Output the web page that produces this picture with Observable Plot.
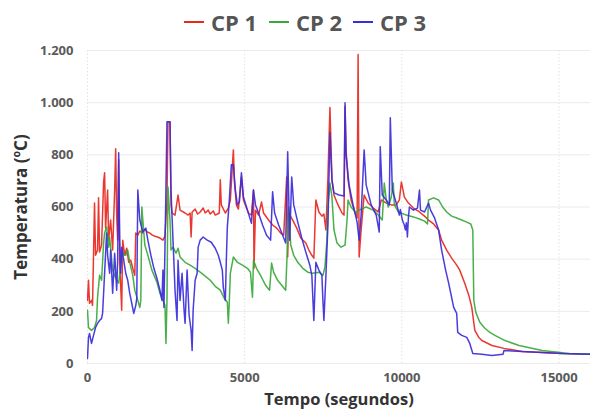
<!DOCTYPE html>
<html><head><meta charset="utf-8">
<script src="https://cdn.jsdelivr.net/npm/d3@7"></script>
<script src="https://cdn.jsdelivr.net/npm/@observablehq/plot@0.6"></script>
<style>
body{margin:0;background:#fff;font-family:"Open Sans",sans-serif;}
#wrap{width:590px;height:410px;position:relative;overflow:hidden;background:#fff}
#legend{position:relative;height:40px;}
.item{position:absolute;top:7px;display:flex;align-items:center;font-weight:700;font-size:22px;color:#555;line-height:30px;white-space:nowrap}
.dash{display:inline-block;width:20px;height:2px;margin-right:7px}
</style></head>
<body>
<div id="wrap">
  <div id="legend"></div>
  <div id="chart"></div>
</div>
<script>
const seriesNames = ["CP 1", "CP 2", "CP 3"];
const seriesColors = ["#e8271f", "#3aa83a", "#3a2ddb"];
const xTicks = [0, 5000, 10000, 15000];
const yTicks = [0, 200, 400, 600, 800, 1000, 1200];
const xTitle = "Tempo (segundos)";
const yTitle = "Temperatura (ºC)";

// [tempo (s), temperatura (ºC)]
const cp1 = [[0,242],[32,319],[64,231],[128,242],[160,223],[224,615],[256,415],[320,435],[352,635],[384,427],[448,454],[512,696],[544,731],[576,519],[640,665],[672,473],[736,550],[800,435],[864,665],[896,823],[928,569],[960,473],[992,781],[1024,388],[1088,204],[1120,473],[1184,415],[1248,442],[1312,388],[1376,396],[1440,365],[1504,338],[1536,500],[1600,492],[1664,508],[1744,500],[1824,515],[1904,504],[1984,500],[2064,492],[2144,488],[2224,485],[2304,481],[2400,473],[2464,488],[2528,627],[2560,927],[2624,927],[2656,608],[2688,577],[2784,569],[2880,646],[2944,588],[3104,577],[3200,569],[3264,577],[3296,485],[3328,581],[3424,592],[3504,573],[3584,581],[3680,596],[3744,577],[3840,588],[3904,573],[4000,585],[4064,569],[4192,577],[4224,704],[4256,608],[4384,577],[4480,596],[4544,627],[4640,819],[4672,700],[4736,608],[4800,592],[4896,715],[4960,627],[5120,577],[5216,569],[5280,665],[5296,365],[5344,588],[5440,569],[5536,619],[5600,577],[5760,550],[5888,531],[6016,519],[6144,500],[6240,492],[6336,715],[6368,408],[6400,577],[6528,550],[6656,519],[6784,481],[6944,462],[7040,435],[7136,415],[7200,404],[7264,627],[7360,581],[7456,565],[7520,573],[7584,512],[7648,715],[7712,981],[7776,704],[7840,646],[7968,608],[8096,577],[8160,569],[8192,985],[8224,819],[8288,704],[8384,627],[8512,577],[8576,558],[8608,1185],[8640,408],[8704,512],[8800,646],[8928,615],[9088,596],[9248,581],[9344,627],[9504,615],[9664,608],[9824,608],[9920,627],[9984,696],[10080,638],[10208,615],[10368,596],[10560,581],[10720,565],[10848,550],[11008,535],[11168,512],[11264,473],[11424,435],[11584,404],[11744,377],[11840,358],[12000,308],[12128,262],[12224,215],[12320,127],[12448,100],[12544,88],[12864,69],[13248,58],[13824,46],[14464,42],[15104,38],[16064,35]];

const cp2 = [[0,204],[32,138],[128,127],[224,138],[288,165],[320,254],[384,338],[448,319],[512,462],[544,500],[608,523],[672,446],[704,485],[800,358],[896,327],[992,308],[1056,377],[1120,423],[1216,415],[1280,435],[1344,388],[1440,338],[1504,281],[1600,242],[1664,215],[1696,242],[1728,600],[1760,550],[1824,454],[1920,415],[2048,358],[2208,312],[2304,269],[2400,242],[2464,223],[2496,77],[2528,242],[2560,677],[2624,550],[2656,435],[2720,446],[2816,423],[2880,442],[2944,408],[3104,388],[3264,377],[3424,365],[3584,350],[3744,335],[3904,319],[4064,296],[4224,281],[4352,250],[4448,235],[4480,154],[4512,240],[4544,346],[4640,408],[4768,388],[4928,377],[5088,365],[5184,350],[5248,254],[5280,396],[5376,365],[5504,338],[5664,300],[5792,281],[5856,385],[5920,350],[6048,319],[6176,300],[6304,281],[6368,473],[6400,600],[6464,454],[6560,415],[6688,388],[6848,365],[7008,350],[7168,346],[7360,350],[7488,338],[7552,369],[7616,473],[7648,600],[7712,692],[7776,638],[7840,512],[7936,462],[8064,446],[8192,454],[8256,550],[8288,627],[8384,600],[8544,577],[8640,588],[8864,600],[9088,588],[9248,569],[9376,550],[9440,692],[9504,627],[9568,600],[9664,638],[9728,692],[9760,608],[9888,581],[10144,569],[10368,562],[10560,554],[10720,546],[10816,535],[10848,627],[11008,635],[11168,627],[11296,600],[11424,581],[11584,565],[11744,558],[11904,550],[12064,542],[12192,535],[12256,512],[12288,242],[12352,196],[12480,158],[12640,135],[12800,119],[12960,108],[13280,88],[13728,69],[14464,50],[15328,38],[16064,35]];

const cp3 = [[0,19],[32,100],[64,115],[128,77],[192,108],[256,138],[320,154],[384,165],[448,173],[480,192],[544,346],[608,500],[640,415],[704,346],[736,435],[800,269],[864,423],[928,281],[960,396],[992,808],[1024,473],[1056,346],[1088,446],[1152,396],[1216,346],[1280,319],[1344,269],[1408,231],[1472,192],[1536,223],[1568,250],[1600,665],[1664,550],[1760,504],[1856,519],[1920,473],[2016,415],[2112,365],[2208,327],[2304,281],[2368,242],[2400,358],[2432,215],[2496,677],[2528,927],[2624,927],[2656,665],[2688,569],[2720,473],[2784,281],[2848,165],[2880,396],[2944,242],[3008,346],[3072,204],[3104,154],[3168,358],[3232,185],[3296,127],[3328,50],[3360,204],[3424,319],[3488,346],[3520,446],[3584,473],[3680,485],[3808,473],[3936,465],[4064,442],[4160,415],[4224,388],[4288,358],[4320,292],[4384,242],[4416,396],[4448,523],[4512,627],[4576,762],[4640,762],[4704,665],[4768,608],[4832,620],[4896,731],[4960,638],[5088,588],[5216,538],[5280,665],[5344,608],[5440,577],[5568,531],[5696,492],[5824,473],[5888,658],[5952,577],[6080,531],[6208,492],[6304,462],[6368,812],[6432,473],[6496,715],[6560,608],[6688,542],[6816,481],[6944,427],[7072,377],[7136,338],[7200,165],[7264,388],[7360,358],[7456,338],[7488,242],[7520,165],[7584,338],[7648,531],[7712,885],[7776,704],[7840,654],[8000,646],[8160,642],[8192,1000],[8224,800],[8320,685],[8448,608],[8576,542],[8640,473],[8704,569],[8800,819],[8864,685],[9024,608],[9184,569],[9280,504],[9312,831],[9376,646],[9504,627],[9600,608],[9632,942],[9696,665],[9792,627],[9856,600],[9920,569],[9952,590],[10016,550],[10080,530],[10112,512],[10144,540],[10176,485],[10208,560],[10240,600],[10368,588],[10496,596],[10560,665],[10592,588],[10720,581],[10848,615],[10912,588],[11040,558],[11168,512],[11264,435],[11392,358],[11488,308],[11648,215],[11744,192],[11776,119],[11904,108],[12064,100],[12160,77],[12256,38],[12544,35],[12864,31],[13216,35],[13248,50],[13824,46],[14464,42],[15104,38],[16064,35]];

const seriesData = [cp1, cp2, cp3];
const rows = seriesData.flatMap((arr, i) => arr.map(([t, v]) => ({t, v, s: seriesNames[i]})));

// legend
const legendPos = [184, 269, 353];
const legend = document.getElementById("legend");
seriesNames.forEach((n, i) => {
  const it = document.createElement("div");
  it.className = "item";
  it.style.left = legendPos[i] + "px";
  const d = document.createElement("span");
  d.className = "dash"; d.style.background = seriesColors[i];
  it.appendChild(d);
  it.appendChild(document.createTextNode(n));
  legend.appendChild(it);
});

const fmtY = d => d3.format(",")(d).replace(/,/g, ".");

const chart = Plot.plot({
  width: 590, height: 370,
  marginTop: 10, marginBottom: 47, marginLeft: 87, marginRight: 0,
  style: {fontFamily: "'Open Sans', sans-serif", background: "transparent", overflow: "visible"},
  x: {domain: [0, 16000]},
  y: {domain: [0, 1200]},
  color: {domain: seriesNames, range: seriesColors},
  marks: [
    Plot.gridY({ticks: yTicks, stroke: "#ebebeb", strokeOpacity: 1}),
    Plot.gridX({ticks: xTicks, stroke: "#e3e3e3", strokeOpacity: 1, strokeDasharray: "1.5,2"}),
    Plot.axisY({ticks: yTicks, tickSize: 0, tickPadding: 14, tickFormat: fmtY, fontSize: 13, fontWeight: "bold", fill: "#5a5a5a", label: null}),
    Plot.axisX({ticks: xTicks, tickSize: 0, tickPadding: 9, tickFormat: d => String(d), fontSize: 13, fontWeight: "bold", fill: "#5a5a5a", label: null}),
    ...seriesNames.map(n => Plot.line(rows.filter(r => r.s === n), {x: "t", y: "v", stroke: "s", strokeWidth: 1.5, strokeOpacity: 0.92, clip: true})),
    Plot.text([yTitle], {frameAnchor: "left", textAnchor: "middle", dx: -66, rotate: -90, fontSize: 17, fontWeight: "bold", fill: "#333"}),
    Plot.text([xTitle], {frameAnchor: "bottom", textAnchor: "middle", dy: 41, fontSize: 16.5, fontWeight: "bold", fill: "#333"})
  ]
});
document.getElementById("chart").appendChild(chart);
</script>
</body></html>
